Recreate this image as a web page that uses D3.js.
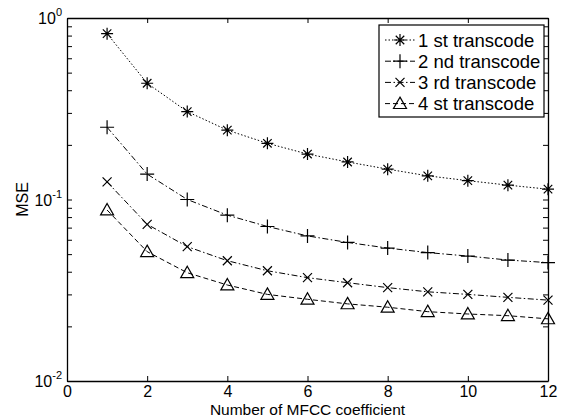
<!DOCTYPE html>
<html>
<head>
<meta charset="utf-8">
<script src="https://cdn.jsdelivr.net/npm/d3@7"></script>
<style>
  body { margin: 0; background: #fff; }
  text { font-family: "Liberation Sans", Arial, sans-serif; fill: #000; }
</style>
</head>
<body>
<svg id="chart" width="564" height="418"></svg>
<script>
var coeffs = [1, 2, 3, 4, 5, 6, 7, 8, 9, 10, 11, 12];
var first  = [0.82, 0.437, 0.305, 0.241, 0.204, 0.178, 0.161, 0.147, 0.135, 0.127, 0.120, 0.114];
var second = [0.25, 0.138, 0.100, 0.082, 0.071, 0.063, 0.058, 0.054, 0.051, 0.0488, 0.0464, 0.0449];
var third  = [0.125, 0.073, 0.055, 0.046, 0.0405, 0.0371, 0.0348, 0.0327, 0.031, 0.030, 0.0289, 0.0279];
var fourth = [0.0875, 0.0516, 0.0395, 0.0338, 0.030, 0.0282, 0.0266, 0.0255, 0.0241, 0.0234, 0.0229, 0.022];
var seriesNames = ['1 st transcode', '2 nd transcode', '3 rd transcode', '4 st transcode'];
var xTicks = [0, 2, 4, 6, 8, 10, 12];
var yMajor = [0.01, 0.1, 1];
var yExp = ['-2', '-1', '0'];

var margin = {top: 18, right: 16, bottom: 37, left: 67},
    width = 564 - margin.left - margin.right,
    height = 418 - margin.top - margin.bottom;

var svg = d3.select('#chart').append('g')
  .attr('transform', `translate(${margin.left},${margin.top})`);

var x = d3.scaleLinear().domain([0, 12]).range([0, width]);
var y = d3.scaleLog().domain([0.01, 1]).range([height, 0]);

// minor + major ticks for the log axis
var yTicks = [];
[0.01, 0.1].forEach(function(b) {
  for (var k = 1; k < 10; k++) yTicks.push(b * k);
});
yTicks.push(1);

function styleAxis(g) {
  g.selectAll('path.domain').attr('stroke', '#000').attr('stroke-width', 1.3);
  g.selectAll('.tick line').attr('stroke', '#000').attr('stroke-width', 1);
}

svg.append('g')
  .attr('transform', `translate(0,${height})`)
  .call(d3.axisBottom(x).tickValues(xTicks).tickSize(-5).tickSizeOuter(0).tickPadding(4.5))
  .call(styleAxis)
  .selectAll('text').attr('font-size', 16).attr('font-family', '"Liberation Sans", Arial, sans-serif');

svg.append('g')
  .call(d3.axisTop(x).tickValues(xTicks).tickSize(-5).tickSizeOuter(0).tickFormat(''))
  .call(styleAxis);

svg.append('g')
  .call(d3.axisLeft(y).tickValues(yTicks).tickSize(-5).tickSizeOuter(0).tickFormat(''))
  .call(styleAxis);

svg.append('g')
  .attr('transform', `translate(${width},0)`)
  .call(d3.axisRight(y).tickValues(yTicks).tickSize(-5).tickSizeOuter(0).tickFormat(''))
  .call(styleAxis);

// y labels as 10^n
var yl = svg.selectAll('.ylab').data(yMajor).enter().append('text')
  .attr('class', 'ylab')
  .attr('x', -5)
  .attr('y', d => y(d) + 6)
  .attr('text-anchor', 'end')
  .attr('font-size', 16);
yl.append('tspan').text('10');
yl.append('tspan').attr('dy', -8).attr('font-size', 11).text((d, i) => yExp[i]);

svg.append('text')
  .attr('x', width / 2)
  .attr('y', height + 33.6)
  .attr('text-anchor', 'middle')
  .attr('font-size', 15.5)
  .text('Number of MFCC coefficient');

svg.append('text')
  .attr('transform', `translate(${-39},${height / 2}) rotate(-90)`)
  .attr('text-anchor', 'middle')
  .attr('font-size', 16)
  .text('MSE');

// markers
function asterisk(r) {
  var d = r * 0.707;
  return `M${-r},0L${r},0M0,${-r}L0,${r}M${-d},${-d}L${d},${d}M${-d},${d}L${d},${-d}`;
}
function plus(r) { return `M${-r},0L${r},0M0,${-r}L0,${r}`; }
function cross(r) { return `M${-r},${-r}L${r},${r}M${-r},${r}L${r},${-r}`; }
function triangle(r) { return `M0,${-r}L${r},${r * 0.75}L${-r},${r * 0.75}Z`; }

var series = [
  {name: seriesNames[0], values: first,  dash: '1.5,2',        marker: asterisk(6)},
  {name: seriesNames[1], values: second, dash: '6,2.5,1.5,2.5', marker: plus(7)},
  {name: seriesNames[2], values: third,  dash: '6,2.5,1.5,2.5', marker: cross(4.5)},
  {name: seriesNames[3], values: fourth, dash: '5,3',          marker: triangle(6.5)}
];

var line = d3.line()
  .x((d, i) => x(coeffs[i]))
  .y(d => y(d));

var grp = svg.selectAll('.series').data(series).enter().append('g').attr('class', 'series');

grp.append('path')
  .attr('d', d => line(d.values))
  .attr('fill', 'none')
  .attr('stroke', '#000')
  .attr('stroke-width', 1)
  .attr('stroke-dasharray', d => d.dash);

grp.each(function(s) {
  d3.select(this).selectAll('.mk').data(s.values).enter().append('path')
    .attr('class', 'mk')
    .attr('transform', (d, i) => `translate(${x(coeffs[i])},${y(d)})`)
    .attr('d', s.marker)
    .attr('fill', 'none')
    .attr('stroke', '#000')
    .attr('stroke-width', 1.2);
});

// legend
var lg = svg.append('g').attr('transform', `translate(${379 - margin.left},${25 - margin.top})`);
lg.append('rect')
  .attr('width', 165).attr('height', 92)
  .attr('fill', '#fff').attr('stroke', '#000').attr('stroke-width', 1.2);

var item = lg.selectAll('.item').data(series).enter().append('g')
  .attr('transform', (d, i) => `translate(0,${15 + i * 21.2})`);
item.append('line')
  .attr('x1', 6).attr('x2', 36)
  .attr('stroke', '#000').attr('stroke-width', 1)
  .attr('stroke-dasharray', d => d.dash);
item.append('path')
  .attr('transform', 'translate(21,0)')
  .attr('d', d => d.marker)
  .attr('fill', 'none').attr('stroke', '#000').attr('stroke-width', 1.2);
item.append('text')
  .attr('x', 39).attr('y', 6.5)
  .attr('font-size', 18.5)
  .text(d => d.name);
</script>
</body>
</html>
